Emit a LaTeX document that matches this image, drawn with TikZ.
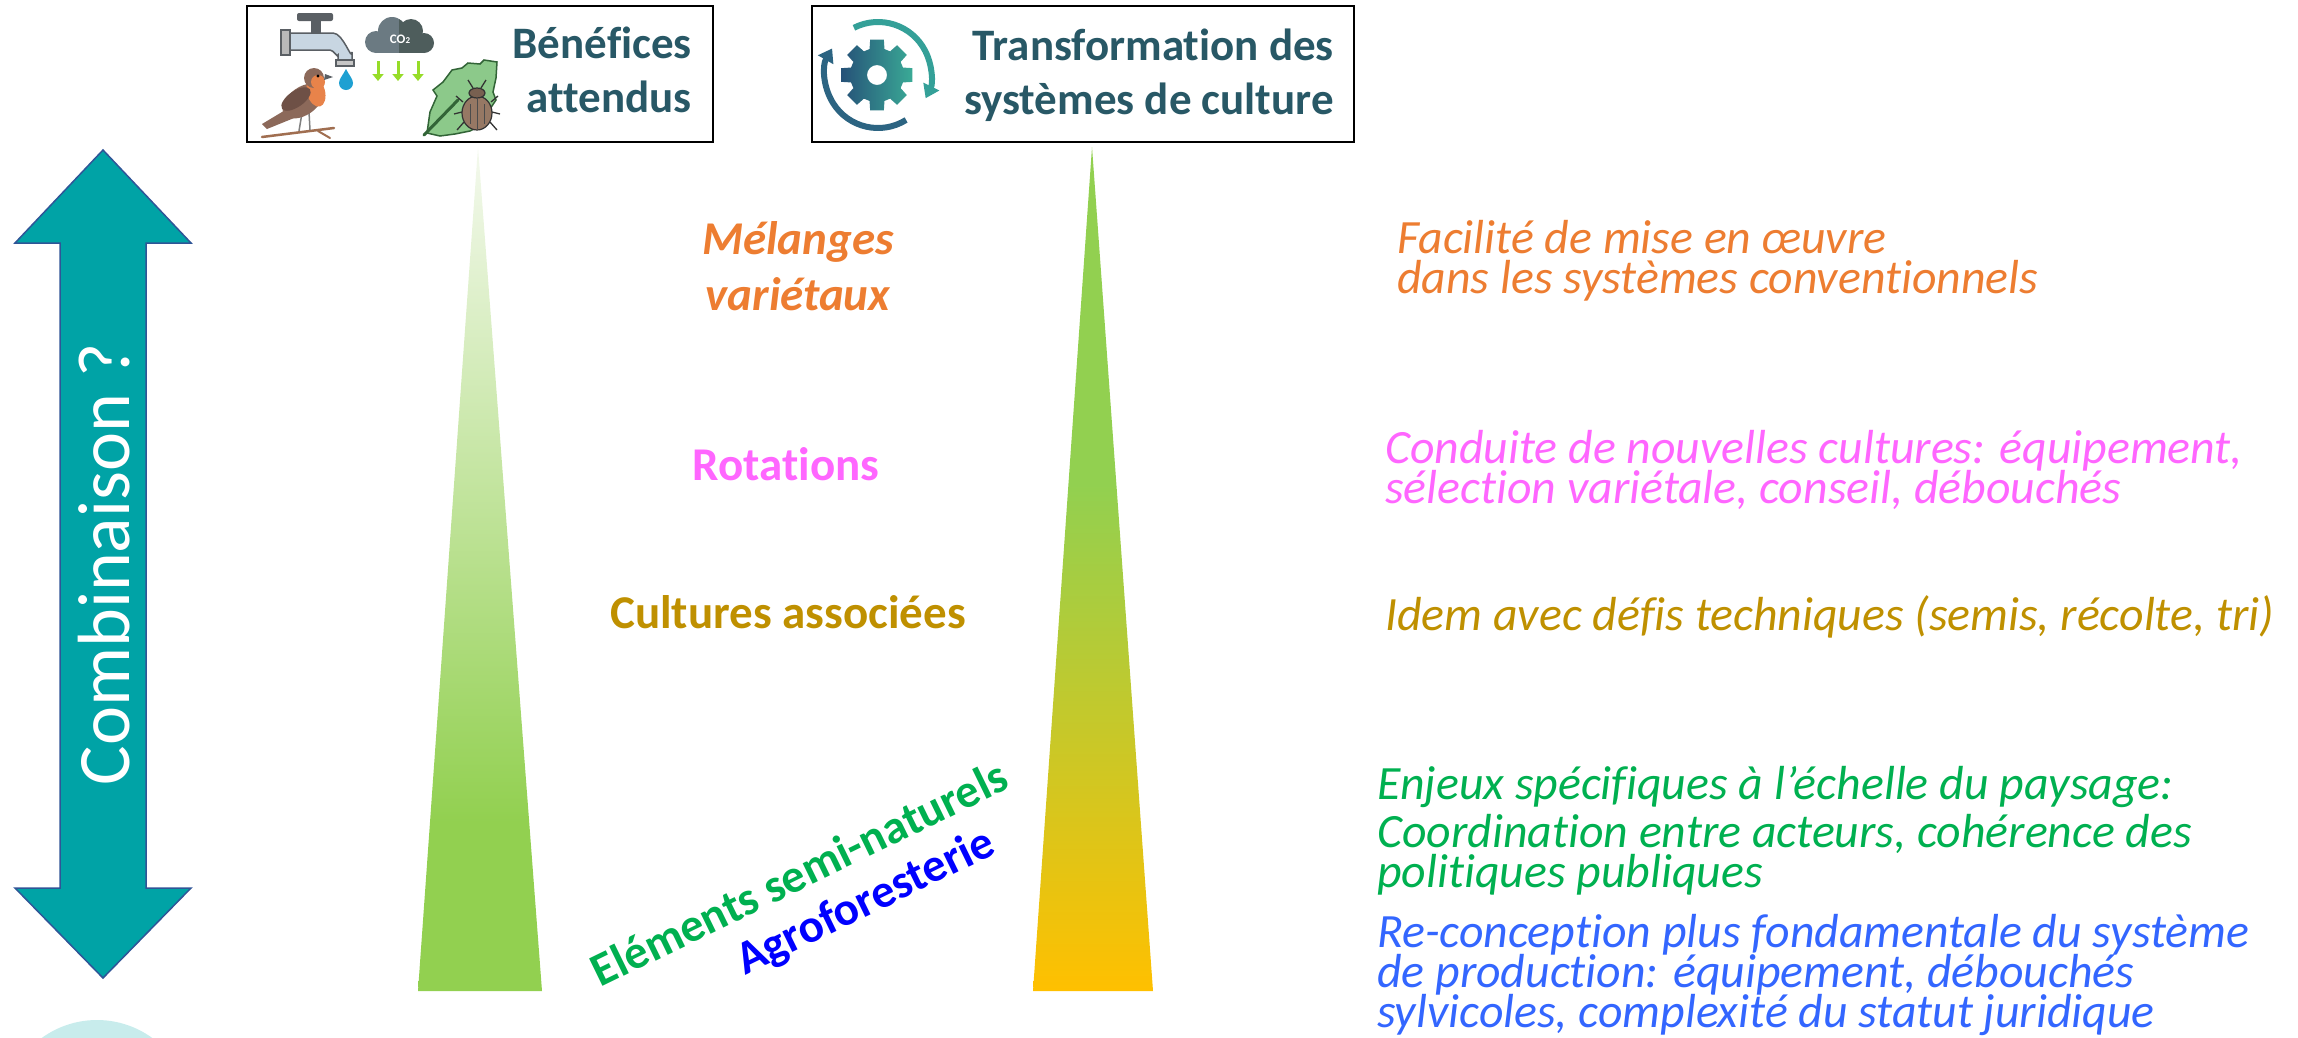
\documentclass[tikz,border=0pt]{standalone}
\usepackage{fontspec}
\setmainfont{Carlito}[Ligatures=NoCommon]
\usetikzlibrary{arrows.meta}

\definecolor{titleteal}{RGB}{40,88,102}
\definecolor{melorange}{RGB}{237,125,49}
\definecolor{rotpink}{RGB}{255,102,255}
\definecolor{assocgold}{RGB}{191,144,0}
\definecolor{sngreen}{RGB}{0,176,80}
\definecolor{agroblue}{RGB}{0,0,255}
\definecolor{reblue}{RGB}{51,102,255}
\definecolor{arrowteal}{RGB}{0,163,166}
\definecolor{arrowedge}{RGB}{47,85,151}
\definecolor{circlecyan}{RGB}{200,236,236}
\definecolor{leafgreen}{RGB}{146,208,80}
\definecolor{paleleaf}{RGB}{244,249,238}
\definecolor{amber}{RGB}{255,192,0}
\definecolor{cloudlight}{RGB}{107,122,130}
\definecolor{clouddark}{RGB}{78,93,92}
\definecolor{co2arrow}{RGB}{150,220,40}
\definecolor{tapbody}{RGB}{200,214,226}
\definecolor{tapgrey}{RGB}{90,95,100}
\definecolor{waterdrop}{RGB}{30,160,210}
\definecolor{birdbrown}{RGB}{140,105,90}
\definecolor{wingbrown}{RGB}{110,80,70}
\definecolor{robinbreast}{RGB}{232,131,74}
\definecolor{twig}{RGB}{160,110,80}
\definecolor{leaffill}{RGB}{140,201,138}
\definecolor{leafedge}{RGB}{50,100,55}
\definecolor{beetle}{RGB}{150,120,100}
\definecolor{geardark}{RGB}{38,82,120}
\definecolor{gearlight}{RGB}{58,170,150}
\definecolor{cycleteal}{RGB}{52,160,152}
\definecolor{cycleblue}{RGB}{44,100,130}

% vertical colour ramps of the two wedges (0bp = bottom, 100bp = top)
\pgfdeclareverticalshading{benefit}{100bp}{color(0bp)=(leafgreen); color(25bp)=(leafgreen); color(35bp)=(leafgreen); color(75bp)=(paleleaf); color(100bp)=(paleleaf)}
\pgfdeclareverticalshading{transfo}{100bp}{color(0bp)=(amber); color(25bp)=(amber); color(55bp)=(leafgreen); color(100bp)=(leafgreen)}

% multi-line nodes below are placed by the baseline of their last line
\tikzset{
  boxframe/.style={draw=black, line width=2pt, fill=white, inner sep=0pt},
  boxtitle/.style={text=titleteal, font=\bfseries\fontsize{45}{54}\selectfont, align=right, inner sep=0pt, anchor=base east},
  midlabel/.style={font=\bfseries\fontsize{47}{56}\selectfont, align=center, inner sep=0pt, anchor=base},
  slanted/.style={font=\bfseries\fontsize{47}{56}\selectfont, inner sep=0pt, rotate=26},
  sidenote/.style={font=\itshape\fontsize{47.8}{40}\selectfont, align=left, inner sep=0pt, anchor=base west},
}

\begin{document}
% tight line spacing must not be widened by \lineskip
\lineskiplimit=-100pt\relax
\begin{tikzpicture}[x=1pt,y=-1pt]
\useasboundingbox (0,0) rectangle (2298,1037);
\clip (0,0) rectangle (2298,1037);

% ---- double arrow "Combinaison ?"
\filldraw[fill=arrowteal, draw=arrowedge, line width=1.5pt, line join=miter]
  (103,150) -- (191,243) -- (146,243) -- (146,888) -- (191,888) -- (103,978)
  -- (15,888) -- (60,888) -- (60,243) -- (15,243) -- cycle;
\node[rotate=90, text=white, font=\fontsize{74}{74}\selectfont, inner sep=0pt] (combi) at (104,564) {Combinaison ?};

% ---- disc at the lower left corner
\fill[circlecyan] (97,1114) circle (94);

% ---- header boxes
\node[boxframe, minimum width=466pt, minimum height=136pt] (benefbox) at (480,74) {};
\node[boxframe, minimum width=542pt, minimum height=136pt] (transbox) at (1083,74) {};

% faucet
\fill[tapgrey, rounded corners=2pt] (297,13) rectangle (333,21);
\fill[tapgrey] (311,21) rectangle (321,33);
\filldraw[fill=tapbody, draw=tapgrey, line width=1.5pt]
  (289,33) -- (333,33) to[out=0,in=-90] (352,52) -- (352,62) -- (338,62) -- (338,55)
  to[out=-90,in=0] (330,50) -- (289,50) -- cycle;
\filldraw[fill=gray!55, draw=tapgrey, line width=1.5pt] (281,30) rectangle (290,55);
\filldraw[fill=gray!45, draw=tapgrey, line width=1.2pt] (336,60) rectangle (354,66);
\fill[waterdrop] (346,69) .. controls (349,75) and (353,79) .. (353,83)
  arc[start angle=0, end angle=180, radius=7] .. controls (339,79) and (343,75) .. (346,69) -- cycle;

% CO2 cloud
\fill[cloudlight] (376,42) circle (11);
\fill[cloudlight] (392,31) circle (14);
\fill[cloudlight] (376,38) rectangle (400,53);
\begin{scope}
  \clip (399,0) rectangle (440,60);
  \fill[clouddark] (392,31) circle (14);
  \fill[clouddark] (411,31) circle (12);
  \fill[clouddark] (424,43) circle (10);
  \fill[clouddark] (398,38) rectangle (424,53);
\end{scope}
\node[text=white, font=\bfseries\fontsize{13}{13}\selectfont, inner sep=0pt] (cotwo) at (400,39) {CO{\fontsize{9}{9}\selectfont 2}};
\foreach \ax in {378,398,418}
  \draw[co2arrow, line width=3pt, -{Triangle[length=7pt,width=11pt]}] (\ax,61) -- (\ax,81);

% robin on a twig
\draw[twig, line width=2.5pt, line cap=round] (262,137) -- (334,128);
\draw[twig, line width=2pt, line cap=round] (318,131) -- (330,138);
\draw[gray, line width=1.5pt] (302,113) -- (299,131) (309,112) -- (310,130);
\fill[birdbrown] (292,106) -- (262,124) -- (267,129) -- (299,116) -- cycle;
\fill[birdbrown] (303,101) ellipse [x radius=23, y radius=14, rotate=35];
\fill[robinbreast] (316,92) ellipse [x radius=9, y radius=15, rotate=15];
\fill[birdbrown] (314,78) circle (10);
\fill[robinbreast] (318,82) circle (7);
\fill[wingbrown] (296,99) ellipse [x radius=17, y radius=8, rotate=35];
\fill[tapgrey] (325,74) -- (333,77) -- (324,80) -- cycle;
\fill[black] (318,76) circle (1.6);

% leaf and beetle
\filldraw[fill=leaffill, draw=leafedge, line width=1.5pt]
  (427,133) -- (430,112) -- (437,96) -- (433,90) -- (443,82) -- (452,70) -- (462,68)
  -- (468,63) -- (480,64) -- (484,60) -- (497,62) -- (496,78) -- (493,92) -- (496,100)
  -- (488,112) -- (484,124) -- (470,131) -- (455,134) -- (440,136) -- cycle;
\draw[leafedge, line width=3pt, line cap=round] (424,135) -- (458,100);
\draw[black!80, line width=1.3pt] (463,102) -- (456,96) (491,102) -- (498,96)
  (462,112) -- (454,114) (492,112) -- (500,114) (464,122) -- (457,130) (490,122) -- (497,130)
  (473,88) -- (468,80) (481,88) -- (486,80);
\filldraw[fill=beetle, draw=black!80, line width=1.2pt] (477,113) ellipse [x radius=15, y radius=17];
\filldraw[fill=beetle!80!black, draw=black!80, line width=1.2pt] (477,93) ellipse [x radius=8, y radius=5];
\draw[black!70, line width=1pt] (477,98) -- (477,129) (470,104) -- (470,124) (484,104) -- (484,124);

% gear inside the cycle arrows
\begin{scope}[shift={(877,75)}]
  \shade[left color=geardark, right color=gearlight, even odd rule]
    (-16:27) \foreach \k in {0,...,7} { -- ({\k*45-11}:36) -- ({\k*45+11}:36) -- ({\k*45+16}:27) -- ({\k*45+29}:27) } -- cycle
    (0,0) circle (10);
\end{scope}
\begin{scope}[shift={(878,75)}]
  \draw[cycleteal, line width=6pt, -{Triangle[length=13pt,width=17pt]}] (-117:53) arc[start angle=-117, end angle=26, radius=53];
  \draw[cycleblue, line width=6pt, -{Triangle[length=13pt,width=17pt]}] (58:53) arc[start angle=58, end angle=210, radius=53];
\end{scope}

\node[boxtitle] (beneftxt) at (692,112) {Bénéfices\\attendus};
\node[boxtitle] (transtxt) at (1334,114) {Transformation des\\systèmes de culture};

% ---- the two wedges
\shade[shading=benefit] (478,147) -- (542,991) -- (418,991) -- cycle;
\shade[shading=transfo] (1092,147) -- (1153,991) -- (1033,991) -- cycle;

% ---- levers
\node[midlabel, text=melorange, font=\bfseries\itshape\fontsize{47}{56}\selectfont] (melanges) at (798,310) {Mélanges\\variétaux};
\node[midlabel, text=rotpink] (rotations) at (786,480) {Rotations};
\node[midlabel, text=assocgold] (associees) at (788,628) {Cultures associées};
\node[slanted, text=sngreen] (seminat) at (799,873) {Eléments semi-naturels};
\node[slanted, text=agroblue] (agrofor) at (866,903) {Agroforesterie};

% ---- implementation notes
\node[sidenote, text=melorange] (facilite) at (1397,293) {Facilité de mise en œuvre\\dans les systèmes conventionnels};
\node[sidenote, text=rotpink] (conduite) at (1385,503) {Conduite de nouvelles cultures: équipement,\\sélection variétale, conseil, débouchés};
\node[sidenote, text=assocgold] (idem) at (1385,630) {Idem avec défis techniques (semis, récolte, tri)};
\node[sidenote, text=sngreen] (enjeux) at (1377,887) {Enjeux spécifiques à l’échelle du paysage:\\[8pt]Coordination entre acteurs, cohérence des\\politiques publiques};
\node[sidenote, text=reblue] (reconc) at (1377,1027) {Re-conception plus fondamentale du système\\de production: équipement, débouchés\\sylvicoles, complexité du statut juridique};
\end{tikzpicture}
\end{document}
